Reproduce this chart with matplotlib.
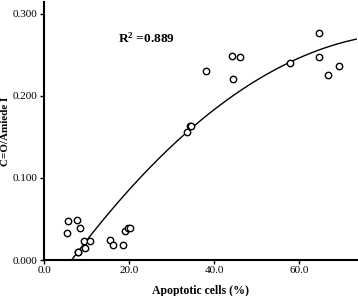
import numpy as np
import matplotlib.pyplot as plt

plt.rcParams["font.family"] = ["Liberation Serif", "DejaVu Serif"]
plt.rcParams["mathtext.fontset"] = "custom"
plt.rcParams["mathtext.rm"] = "Liberation Serif"
plt.rcParams["mathtext.bf"] = "Liberation Serif:bold"

apoptotic = [5.6, 5.3, 7.8, 8.5, 7.9, 8.1, 9.4, 9.7, 10.8, 15.5, 16.2, 18.5, 19.0, 19.8, 20.2,
             33.6, 34.35, 34.6, 38.1, 44.3, 46.1, 44.5, 57.8, 64.6, 64.6, 66.7, 69.25]
ratio = [0.0476, 0.0325, 0.0488, 0.0386, 0.0094, 0.0094, 0.0230, 0.0146, 0.0228, 0.0240,
         0.0187, 0.0187, 0.0350, 0.0394, 0.0394,
         0.156, 0.1634, 0.164, 0.2305, 0.2484, 0.2476, 0.221, 0.2406, 0.2765, 0.2476, 0.2252, 0.2366]

# quadratic fit: y = a + b*x + c*x^2
fit_coef = [-4.335e-5, 0.0074886, -0.046844]
r_squared = 0.889

x_ticks = [0, 20, 40, 60]
y_ticks = [0.0, 0.1, 0.2, 0.3]

fig = plt.figure(figsize=(3.58, 2.96), dpi=100)
ax = fig.add_axes([44 / 358, 36 / 296, 313 / 358, 258 / 296])

xs = np.linspace(0, 73.6, 300)
ax.plot(xs, np.polyval(fit_coef, xs), color="black", linewidth=1.0, zorder=2)
ax.plot(apoptotic, ratio, linestyle="none", marker="o", markersize=4.6,
        markerfacecolor="white", markeredgecolor="black", markeredgewidth=1.0, zorder=3)

ax.set_xlim(0, 73.6)
ax.set_ylim(0, 0.3146)
ax.set_xticks(x_ticks)
ax.set_xticklabels([f"{t:.1f}" for t in x_ticks])
ax.set_yticks(y_ticks)
ax.set_yticklabels([f"{t:.3f}" for t in y_ticks])
ax.tick_params(direction="out", length=3, width=1, labelsize=8, pad=1.5)

for side in ["top", "right"]:
    ax.spines[side].set_visible(False)
for side in ["left", "bottom"]:
    ax.spines[side].set_linewidth(1.5)

ax.set_xlabel("Apoptotic cells (%)", fontsize=8.5, fontweight="bold")
ax.xaxis.set_label_coords(0.5, -0.095)
ax.set_ylabel("C=O/Amiede I", fontsize=8, fontweight="bold")
ax.yaxis.set_label_coords(-0.11, 0.5)

ax.text(17.4, 0.27, "$\\mathbf{R^{2}}$ =" + str(r_squared), fontsize=9.5, fontweight="bold", va="center")

plt.savefig("out.png", dpi=100)
plt.close()
